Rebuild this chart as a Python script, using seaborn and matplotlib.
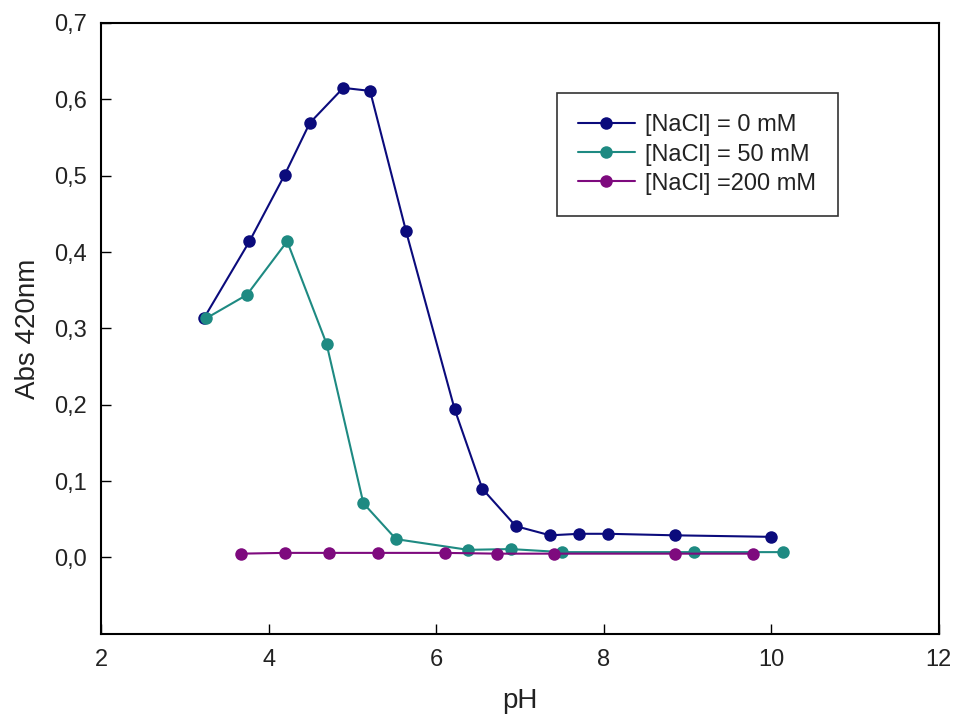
import numpy as np
import pandas as pd
import matplotlib
matplotlib.use("Agg")
import matplotlib.pyplot as plt
import seaborn as sns
from matplotlib.ticker import FuncFormatter

# Absorbance at 420 nm versus pH for three NaCl concentrations
ph_0mM = [3.23, 3.77, 4.19, 4.49, 4.89, 5.21, 5.64, 6.22, 6.55, 6.95, 7.36, 7.71, 8.05, 8.85, 10.00]
abs_0mM = [0.314, 0.414, 0.501, 0.569, 0.615, 0.611, 0.427, 0.194, 0.090, 0.041, 0.029, 0.031, 0.031, 0.029, 0.027]

ph_50mM = [3.25, 3.74, 4.22, 4.69, 5.13, 5.52, 6.38, 6.89, 7.50, 9.08, 10.14]
abs_50mM = [0.313, 0.344, 0.414, 0.280, 0.071, 0.024, 0.010, 0.011, 0.007, 0.007, 0.007]

ph_200mM = [3.67, 4.19, 4.72, 5.30, 6.10, 6.72, 7.41, 8.85, 9.78]
abs_200mM = [0.005, 0.006, 0.006, 0.006, 0.006, 0.005, 0.005, 0.005, 0.005]

series_labels = ["[NaCl] = 0 mM", "[NaCl] = 50 mM", "[NaCl] =200 mM"]
series_colors = ["#0b0b7c", "#1e8a82", "#7e0a7e"]

x_ticks = [2, 4, 6, 8, 10, 12]
y_ticks = [0.0, 0.1, 0.2, 0.3, 0.4, 0.5, 0.6, 0.7]

frames = []
for label, xs, ys in zip(series_labels,
                         [ph_0mM, ph_50mM, ph_200mM],
                         [abs_0mM, abs_50mM, abs_200mM]):
    frames.append(pd.DataFrame({"pH": xs, "Abs": ys, "series": label}))
df = pd.concat(frames, ignore_index=True)

sns.set_theme(style="white")
plt.rcParams["font.family"] = ["Liberation Sans", "DejaVu Sans"]

fig = plt.figure(figsize=(9.55, 7.17), dpi=100)
ax = fig.add_axes([0.106, 0.116, 0.877, 0.852])

sns.lineplot(data=df, x="pH", y="Abs", hue="series", hue_order=series_labels,
             palette=series_colors, sort=False, estimator=None,
             marker="o", markersize=9, markeredgewidth=0, linewidth=1.5,
             ax=ax)

ax.set_xlim(2, 12)
ax.set_ylim(-0.1, 0.7)
ax.set_xticks(x_ticks)
ax.set_yticks(y_ticks)
ax.yaxis.set_major_formatter(FuncFormatter(lambda v, p: f"{v:.1f}".replace(".", ",")))
ax.xaxis.set_major_formatter(FuncFormatter(lambda v, p: f"{v:g}"))

ax.tick_params(axis="both", direction="in", length=7, width=1.0, color="black",
               labelsize=17, labelcolor="#222222", bottom=True, left=True,
               top=False, right=False)
ax.tick_params(axis="x", pad=11)
ax.tick_params(axis="y", pad=10)

for s in ax.spines.values():
    s.set_color("black")
    s.set_linewidth(1.5)

ax.set_xlabel("pH", fontsize=20, color="#222222", labelpad=12)
ax.set_ylabel("Abs 420nm", fontsize=20, color="#222222", labelpad=10)

leg = ax.legend(loc="upper left", bbox_to_anchor=(0.544, 0.885),
                borderaxespad=0, frameon=True, fancybox=False, fontsize=17,
                handlelength=2.4, handletextpad=0.45, labelspacing=0.3,
                borderpad=0.9)
leg.get_frame().set_edgecolor("black")
leg.get_frame().set_linewidth(1.2)
for t in leg.get_texts():
    t.set_color("#222222")

fig.savefig("out.png", dpi=100)
